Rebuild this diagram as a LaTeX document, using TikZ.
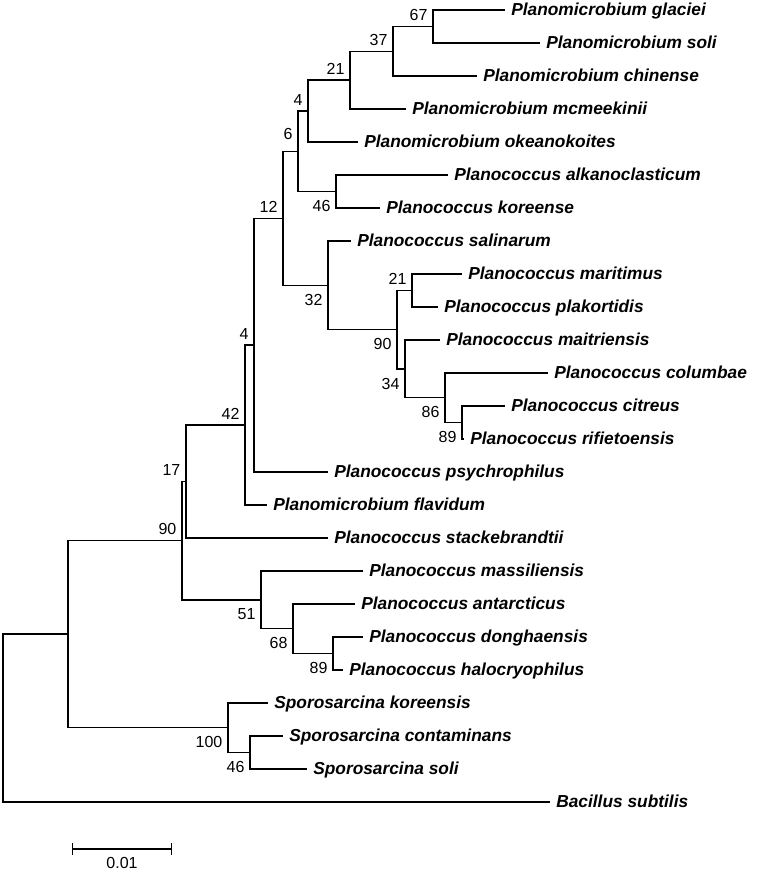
\documentclass[tikz,border=0pt]{standalone}
\usepackage{fontspec}
\setmainfont{Liberation Sans}
\usetikzlibrary{positioning, arrows.meta}

\tikzset{
	taxon/.style={anchor=west, font=\fontsize{13}{15}\selectfont\bfseries\itshape, inner xsep=4.5pt, inner ysep=0pt, text height=9.3pt, text depth=1.8pt},
	bs/.style={font=\fontsize{12}{14}\selectfont, inner sep=4pt},
	bslo/.style={bs, yshift=-2.5pt},
	branch/.style={line width=1.1pt}
}

\begin{document}
\begin{tikzpicture}[x=0.75pt, y=-0.75pt]
		\useasboundingbox (0,0) rectangle (757,872);
		
		% Planomicrobium
		\node[taxon] (glaciei) at (505,10) {Planomicrobium glaciei};
		\node[taxon] (soliPm) at (540,43) {Planomicrobium soli};
		\node[taxon] (chinense) at (477,76) {Planomicrobium chinense};
		\node[taxon] (mcmeekinii) at (406,109) {Planomicrobium mcmeekinii};
		\node[taxon] (okeanokoites) at (358,142) {Planomicrobium okeanokoites};
		
		% Planococcus
		\node[taxon] (alkano) at (448,175) {Planococcus alkanoclasticum};
		\node[taxon] (koreense) at (380,208) {Planococcus koreense};
		\node[taxon] (salinarum) at (351,241) {Planococcus salinarum};
		\node[taxon] (maritimus) at (462,274) {Planococcus maritimus};
		\node[taxon] (plakortidis) at (438,307) {Planococcus plakortidis};
		\node[taxon] (maitriensis) at (440,340) {Planococcus maitriensis};
		\node[taxon] (columbae) at (548,373) {Planococcus columbae};
		\node[taxon] (citreus) at (505,406) {Planococcus citreus};
		\node[taxon] (rifietoensis) at (464,439) {Planococcus rifietoensis};
		\node[taxon] (psychrophilus) at (328,472) {Planococcus psychrophilus};
		\node[taxon] (flavidum) at (267,505) {Planomicrobium flavidum};
		\node[taxon] (stackebrandtii) at (328,538) {Planococcus stackebrandtii};
		\node[taxon] (massiliensis) at (363,571) {Planococcus massiliensis};
		\node[taxon] (antarcticus) at (355,604) {Planococcus antarcticus};
		\node[taxon] (donghaensis) at (363,637) {Planococcus donghaensis};
		\node[taxon] (halocryophilus) at (343,670) {Planococcus halocryophilus};
		
		% Sporosarcina, Bacillus
		\node[taxon] (koreensis) at (268,703) {Sporosarcina koreensis};
		\node[taxon] (contaminans) at (283,736) {Sporosarcina contaminans};
		\node[taxon] (soliSp) at (307,769) {Sporosarcina soli};
		\node[taxon] (bacillus) at (550,802) {Bacillus subtilis};
		
		% internal nodes
		\coordinate[label={[bs]above left:67}] (n67) at (433,26.5);
		\coordinate[label={[bs]above left:37}] (n37) at (393,51.25);
		\coordinate[label={[bs]above left:21}] (n21a) at (350,80.1);
		\coordinate[label={[bs]above left:4}] (n4a) at (308,111.1);
		\coordinate[label={[bslo]below left:46}] (n46a) at (336,191.5);
		\coordinate[label={[bs, yshift=4.5pt]above left:6}] (n6) at (298,151.3);
		\coordinate[label={[bs]above left:21}] (n21b) at (412,290.5);
		\coordinate[label={[bslo]below left:89}] (n89a) at (462,422.5);
		\coordinate[label={[bslo]below left:86}] (n86) at (445,397.75);
		\coordinate[label={[bslo]below left:34}] (n34) at (405,368.9);
		\coordinate[label={[bslo]below left:90}] (n90a) at (397,329.7);
		\coordinate[label={[bslo]below left:32}] (n32) at (328,285.35);
		\coordinate[label={[bs]above left:12}] (n12) at (283,218.3);
		\coordinate[label={[bs]above left:4}] (n4b) at (254,345.2);
		\coordinate[label={[bs]above left:42}] (n42) at (245,425.1);
		\coordinate[label={[bs]above left:17}] (n17) at (186,481.5);
		\coordinate[label={[bslo]below left:89}] (n89b) at (333,653.5);
		\coordinate[label={[bslo]below left:68}] (n68) at (293,628.75);
		\coordinate[label={[bslo]below left:51}] (n51) at (261,599.9);
		\coordinate[label={[bs]above left:90}] (n90b) at (182,540.7);
		\coordinate[label={[bslo]below left:46}] (n46b) at (250,752.5);
		\coordinate[label={[bslo]below left:100}] (n100) at (228,727.75);
		\coordinate (nA) at (68,634.2);
		\coordinate (root) at (3,718.1);
		
		% branches
		\draw[branch] (glaciei.west) -| (n67) |- (soliPm.west);
		\draw[branch] (n67) -| (n37) |- (chinense.west);
		\draw[branch] (n37) -| (n21a) |- (mcmeekinii.west);
		\draw[branch] (n21a) -| (n4a) |- (okeanokoites.west);
		\draw[branch] (alkano.west) -| (n46a) |- (koreense.west);
		\draw[branch] (n4a) -| (n6) |- (n46a);
		\draw[branch] (maritimus.west) -| (n21b) |- (plakortidis.west);
		\draw[branch] (citreus.west) -| (n89a) |- (rifietoensis.west);
		\draw[branch] (columbae.west) -| (n86) |- (n89a);
		\draw[branch] (maitriensis.west) -| (n34) |- (n86);
		\draw[branch] (n21b) -| (n90a) |- (n34);
		\draw[branch] (salinarum.west) -| (n32) |- (n90a);
		\draw[branch] (n6) -| (n12) |- (n32);
		\draw[branch] (n12) -| (n4b) |- (psychrophilus.west);
		\draw[branch] (n4b) -| (n42) |- (flavidum.west);
		\draw[branch] (n42) -| (n17) |- (stackebrandtii.west);
		\draw[branch] (donghaensis.west) -| (n89b) |- (halocryophilus.west);
		\draw[branch] (antarcticus.west) -| (n68) |- (n89b);
		\draw[branch] (massiliensis.west) -| (n51) |- (n68);
		\draw[branch] (n17) -| (n90b) |- (n51);
		\draw[branch] (contaminans.west) -| (n46b) |- (soliSp.west);
		\draw[branch] (koreensis.west) -| (n100) |- (n46b);
		\draw[branch] (n90b) -| (nA) |- (n100);
		\draw[branch] (nA) -| (root) |- (bacillus.west);
		
		% scale bar
		\coordinate (sbL) at (72,849);
		\coordinate (sbR) at (172,849);
		\coordinate[label={[bs, label distance=2pt]below:0.01}] (sbM) at (122,849);
		\draw[branch, {Bar[width=9pt]}-{Bar[width=9pt]}] (sbL) -- (sbR);
\end{tikzpicture}
\end{document}
